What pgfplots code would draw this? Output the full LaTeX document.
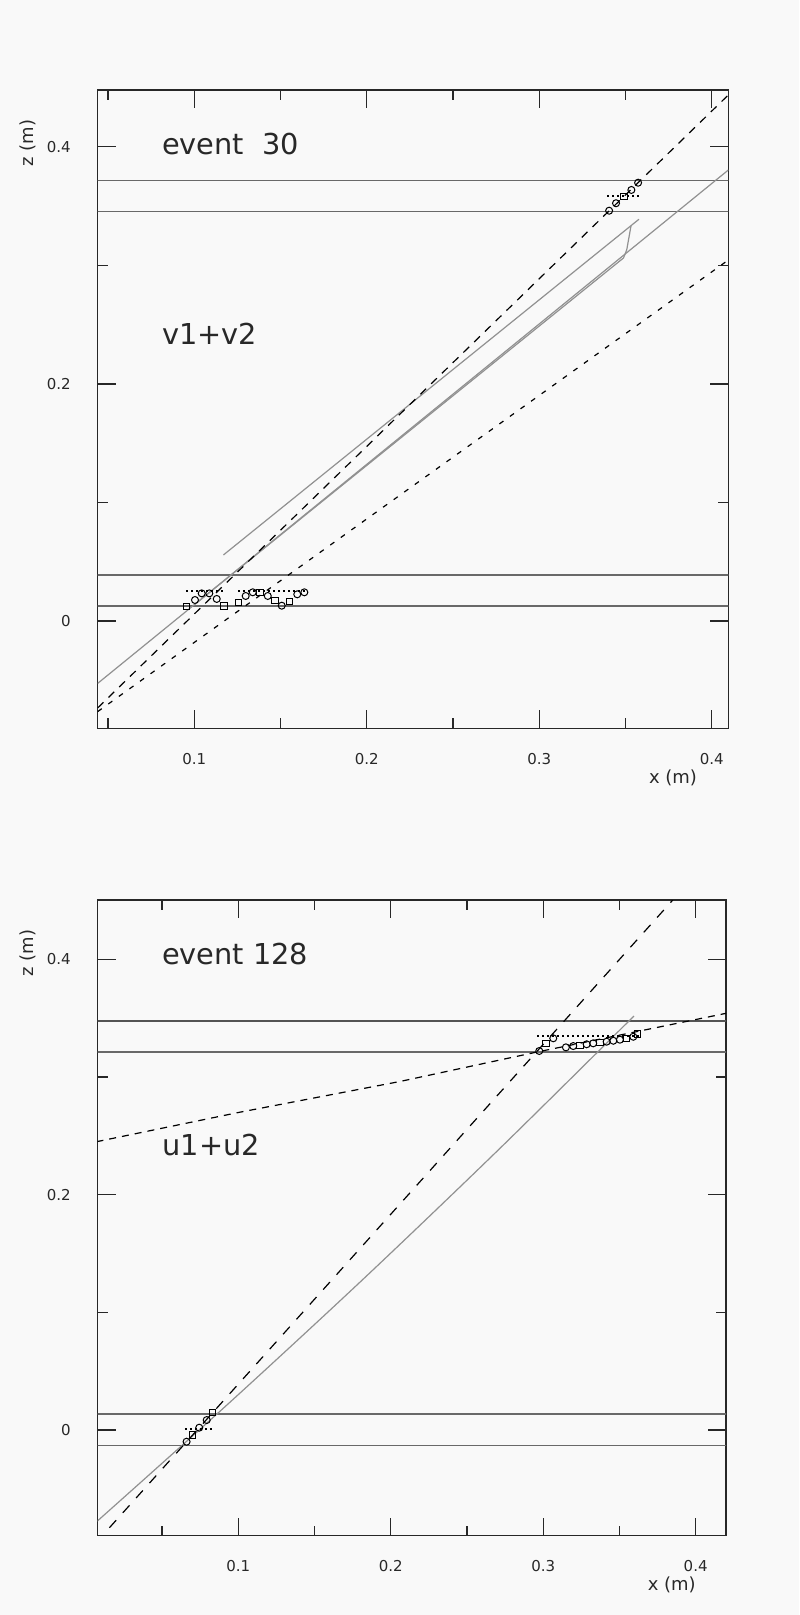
\documentclass[border=0pt]{standalone}
\usepackage{fontspec}
\setmainfont{DejaVu Sans}
\usepackage{pgfplots}
\pgfplotsset{compat=1.18}
\definecolor{bg}{RGB}{249,249,249}
\definecolor{axc}{RGB}{40,40,40}
\definecolor{hl}{RGB}{105,105,105}
\definecolor{trk}{RGB}{145,145,145}
\tikzset{big/.style={anchor=base west, inner sep=0pt, font=\fontsize{14.4}{17}\selectfont, text=axc}}
\pgfplotsset{
  evt/.style={
    scale only axis,
    axis line style={axc, line width=0.75pt},
    tick align=inside, tick pos=both,
    major tick length=9pt, minor tick length=5pt,
    tick style={axc, line width=0.7pt},
    xtick={0.1,0.2,0.3,0.4}, minor xtick={0.05,0.15,0.25,0.35},
    ytick={0,0.2,0.4}, minor ytick={0.1,0.3},
    /pgf/number format/assume math mode=true,
    ticklabel style={font=\fontsize{7.5}{9}\selectfont, text=axc},
    xticklabel style={yshift=-9pt},
    yticklabel style={xshift=-10pt},
    label style={font=\fontsize{9}{11}\selectfont, text=axc},
    xlabel={x (m)}, ylabel={z (m)},
    axis background/.style={fill=bg},
  },
  hline/.style={hl, line width=0.6pt},
  trkl/.style={trk, line width=0.6pt},
  dsh/.style={black, line width=0.6pt, dash pattern=on 4pt off 3.5pt},
  dshs/.style={black, line width=0.6pt, dash pattern=on 2.5pt off 4pt},
  dots/.style={black, line width=1pt, dash pattern=on 1pt off 1.5pt},
  hitc/.style={only marks, mark=o, mark size=1.75pt, mark options={black, line width=0.5pt}},
  hits/.style={only marks, mark=square, mark size=1.6pt, mark options={black, line width=0.5pt}},
}
\begin{document}
\begin{tikzpicture}
\path[use as bounding box, fill=bg] (0,0) rectangle (399.5pt,-807.5pt);

% ---------------- top: event 30 ----------------
\begin{axis}[evt,
  at={(48.85pt,-364.15pt)}, anchor=south west,
  width=315.3pt, height=319.15pt,
  xmin=0.044, xmax=0.4096, ymin=-0.0905, ymax=0.4478,
  xlabel style={at={(axis description cs:0.9123,-0.0779)}, anchor=center},
  ylabel style={at={(axis description cs:-0.1105,0.917)}, anchor=center},
]
\addplot[hline] coordinates {(0,0.3713) (0.5,0.3713)};
\addplot[hline] coordinates {(0,0.345) (0.5,0.345)};
\addplot[hline] coordinates {(0,0.0388) (0.5,0.0388)};
\addplot[hline] coordinates {(0,0.0127) (0.5,0.0127)};
\addplot[trkl] coordinates {(0.044,-0.0526) (0.4096,0.3803)};
\addplot[trkl] coordinates {(0.1169,0.0557) (0.3578,0.3388)};
\addplot[trkl] coordinates {(0.10,0.0137) (0.3488,0.3061) (0.3507,0.3129) (0.3532,0.3333)};
\addplot[dsh] coordinates {(0.044,-0.0733) (0.4096,0.4436)};
\addplot[dshs] coordinates {(0.044,-0.0764) (0.4096,0.3044)};
\addplot[dots] coordinates {(0.0952,0.0253) (0.1168,0.0253)};
\addplot[dots] coordinates {(0.1253,0.0253) (0.1640,0.0253)};
\addplot[dots] coordinates {(0.3395,0.3584) (0.3584,0.3584)};
\addplot[hitc] coordinates {(0.1004,0.0177) (0.1043,0.0233) (0.1087,0.0233) (0.1130,0.0186)
  (0.1298,0.0211) (0.1339,0.0242) (0.1426,0.0211) (0.1507,0.0129) (0.1597,0.0225) (0.1638,0.0242)
  (0.3405,0.3460) (0.3445,0.3523) (0.3534,0.3635) (0.3573,0.3696)};
\addplot[hits] coordinates {(0.0956,0.0121) (0.1172,0.0126) (0.1255,0.0155) (0.1381,0.0242)
  (0.1468,0.0171) (0.1551,0.0163) (0.3491,0.3578)};
\node[big] at (axis cs:0.0811,0.393) {event\ \ 30};
\node[big] at (axis cs:0.0813,0.2328) {v1+v2};
\end{axis}

% ---------------- bottom: event 128 ----------------
\begin{axis}[evt,
  at={(48.85pt,-767.85pt)}, anchor=south west,
  width=314.15pt, height=317.85pt,
  xmin=0.0078, xmax=0.4199, ymin=-0.0898, ymax=0.4504,
  xlabel style={at={(axis description cs:0.9136,-0.0776)}, anchor=center},
  ylabel style={at={(axis description cs:-0.1105,0.9166)}, anchor=center},
]
\addplot[hl!80!black, line width=1pt] coordinates {(0,0.3476) (0.5,0.3476)};
\addplot[hline] coordinates {(0,0.3212) (0.5,0.3212)};
\addplot[hline] coordinates {(0,0.0136) (0.5,0.0136)};
\addplot[hline] coordinates {(0,-0.013) (0.5,-0.013)};
\addplot[trkl, smooth] coordinates {(0.0070,-0.0780) (0.0951,0.0243) (0.1833,0.1299) (0.2714,0.2391) (0.3595,0.3518)};
\addplot[black, line width=0.6pt, dash pattern=on 3.5pt off 3pt] coordinates {(0.0070,0.2450) (0.1007,0.2700) (0.2061,0.2962) (0.2951,0.3210) (0.4199,0.3541)};
\addplot[black, line width=0.6pt, dash pattern=on 5pt off 5pt] coordinates {(0.0155,-0.0830) (0.3850,0.4504)};
\addplot[dots] coordinates {(0.065,0.0006) (0.0836,0.0006)};
\addplot[dots] coordinates {(0.2961,0.3351) (0.3630,0.3351)};
\addplot[hitc] coordinates {(0.0661,-0.0099) (0.0744,0.002) (0.0793,0.0085)
  (0.2974,0.3221) (0.3066,0.3329) (0.3149,0.3252) (0.3197,0.3263) (0.3285,0.3278) (0.3328,0.3286)
  (0.3416,0.3300) (0.3460,0.3308) (0.3503,0.3317) (0.3591,0.3342)};
\addplot[hits] coordinates {(0.0701,-0.0042) (0.0832,0.0147) (0.3018,0.3286) (0.3241,0.3269)
  (0.3372,0.3295) (0.3547,0.3325) (0.3617,0.3365)};
\node[big] at (axis cs:0.0498,0.3952) {event 128};
\node[big] at (axis cs:0.0500,0.2337) {u1+u2};
\end{axis}
\end{tikzpicture}
\end{document}
